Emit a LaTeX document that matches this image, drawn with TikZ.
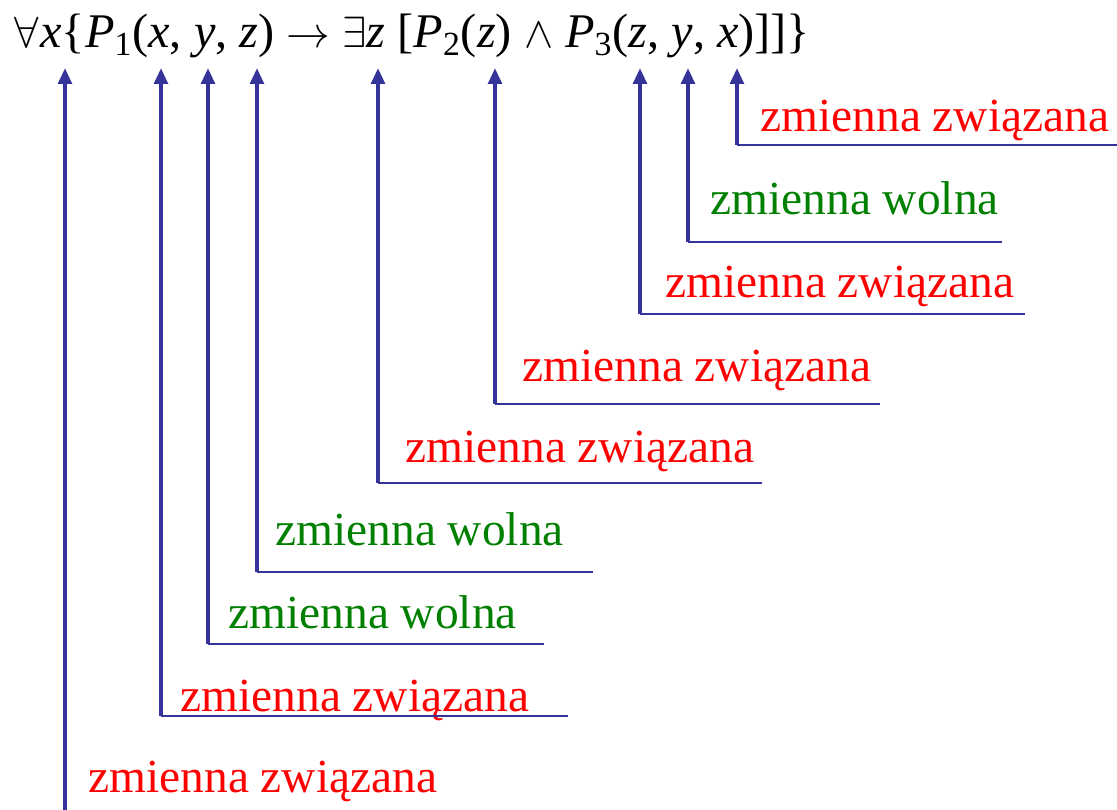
\documentclass[tikz,border=0pt]{standalone}
\usepackage{fontspec}
\setmainfont{Liberation Serif}
\usetikzlibrary{arrows.meta}
\definecolor{linkblue}{RGB}{51,51,153}
\definecolor{boundred}{RGB}{255,0,0}
\definecolor{freegreen}{RGB}{0,128,0}
\tikzset{
  pointer/.style={linkblue,line width=2.2pt,-{Triangle[length=0.32cm,width=0.27cm]}},
  underline/.style={linkblue,line width=1.2pt},
  varlabel/.style={anchor=base west,inner sep=0pt,font=\fontsize{27}{32}\selectfont},
}
\begin{document}
\begin{tikzpicture}[x=0.02cm,y=-0.02cm]
\useasboundingbox (0,0) rectangle (1117,810);
\node[varlabel,text=black,font=\fontsize{27.5}{33}\selectfont] (formula) at (14,48)
  {$\forall$\kern1pt\textit{x}\{\textit{P}\textsubscript{1}(\textit{x}, \textit{y}, \textit{z}) $\rightarrow$ $\exists$\textit{z} [\textit{P}\textsubscript{2}(\textit{z}) $\wedge$ \textit{P}\textsubscript{3}(\textit{z}, \textit{y}, \textit{x})]]\}};
% labels under the formula
\foreach \i/\ax/\ly/\ex/\lx/\by/\col/\txt in {
    1/737/145/1117/760/132/boundred/związana,
    2/688/242/1002/710/215/freegreen/wolna,
    3/640/314/1025/665/298/boundred/związana,
    4/495/404/880/522/382/boundred/związana,
    5/378/483/762/405/463/boundred/związana,
    6/257/572/593/275/546/freegreen/wolna,
    7/208/644/544/228/629/freegreen/wolna,
    8/161/716/568/180/712/boundred/związana} {
  \coordinate (t\i) at (\ax,68);
  \coordinate (c\i) at (\ax,\ly);
  \coordinate (e\i) at (\ex,\ly);
  \node[varlabel,text=\col] (l\i) at (\lx,\by) {zmienna \txt};
  \draw[underline] (c\i) -- (e\i);
  \draw[pointer] (c\i) -- (t\i);
}
\coordinate (t9) at (65,68);
\coordinate (c9) at (65,815);
\node[varlabel,text=boundred] (l9) at (88,793) {zmienna związana};
\draw[pointer] (c9) -- (t9);
\end{tikzpicture}
\end{document}
